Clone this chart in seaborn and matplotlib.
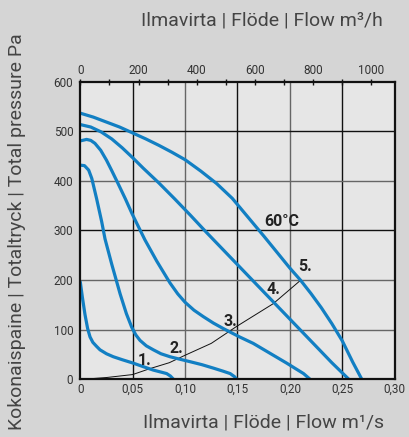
import numpy as np
import pandas as pd
import matplotlib
matplotlib.use("Agg")
import matplotlib.pyplot as plt
import seaborn as sns

sns.set_theme(style="white")
plt.rcParams["font.family"] = ["Roboto", "DejaVu Sans"]

# fan curves, flow in m3/s and total pressure in Pa
flow_1 = [0.0, 0.002, 0.0045, 0.007, 0.0093, 0.012, 0.0155, 0.0188, 0.025, 0.0315, 0.040, 0.0506, 0.060, 0.0697, 0.0770, 0.0824, 0.0860, 0.0887]
pres_1 = [196, 165, 130, 102, 85, 74, 66, 59, 51, 45, 39, 32, 25, 18, 14, 11, 6, 0]

flow_2 = [0.0, 0.004, 0.008, 0.011, 0.0156, 0.0204, 0.0236, 0.030, 0.038, 0.044, 0.049, 0.053, 0.057, 0.063, 0.0697, 0.077, 0.0856, 0.095, 0.1047, 0.116, 0.127, 0.136, 0.143, 0.147, 0.149]
pres_2 = [432, 431, 422, 405, 364, 318, 283, 232, 172, 132, 105, 89, 78, 67, 59, 51, 45, 40, 35, 29, 22, 16, 11, 5, 0]

flow_3 = [0.0, 0.006, 0.010, 0.014, 0.0195, 0.025, 0.030, 0.036, 0.043, 0.0496, 0.0617, 0.073, 0.0856, 0.093, 0.100, 0.1085, 0.1174, 0.127, 0.1364, 0.152, 0.165, 0.181, 0.197, 0.213, 0.219]
pres_3 = [481, 484, 482, 476, 462, 442, 421, 395, 364, 333, 281, 238, 194, 172, 155, 139, 126, 113, 102, 85, 72, 52, 32, 11, 0]

flow_4 = [0.0, 0.01, 0.02, 0.03, 0.04, 0.05, 0.06, 0.075, 0.09, 0.105, 0.12, 0.135, 0.15, 0.165, 0.18, 0.195, 0.21, 0.225, 0.24, 0.256]
pres_4 = [514, 509, 499, 485, 467, 447, 426, 396, 364, 331, 297, 264, 231, 198, 165, 132, 99, 66, 33, 0]

flow_5 = [0.0, 0.0125, 0.025, 0.0375, 0.05, 0.0625, 0.075, 0.0875, 0.10, 0.115, 0.13, 0.145, 0.16, 0.175, 0.19, 0.20, 0.21, 0.22, 0.23, 0.24, 0.25, 0.26, 0.2685]
pres_5 = [537, 529, 519, 509, 497, 485, 472, 458, 443, 420, 395, 365, 327, 289, 250, 224, 200, 173, 144, 112, 77, 34, 0]

# system curve through the operating points
sys_flow = [0.0, 0.0124, 0.025, 0.05, 0.0665, 0.085, 0.10, 0.125, 0.149, 0.184, 0.2105]
sys_pres = [0, 1, 3, 9, 21, 33, 48, 72, 106, 152, 200]

point_labels = ["1.", "2.", "3.", "4.", "5."]
point_flow = [0.0617, 0.092, 0.1428, 0.184, 0.2145]
point_pres = [38, 62, 116, 180, 227]

top_ticks = [0, 200, 400, 600, 800, 1000]
x_ticks = [0, 0.05, 0.10, 0.15, 0.20, 0.25, 0.30]
x_ticklabels = ["0", "0,05", "0,10", "0,15", "0,20", "0,25", "0,30"]
y_ticks = [0, 100, 200, 300, 400, 500, 600]

BLUE = "#127fc3"
TXT = "#444444"

curves = [(flow_1, pres_1), (flow_2, pres_2), (flow_3, pres_3), (flow_4, pres_4), (flow_5, pres_5)]
df = pd.concat([pd.DataFrame({"flow": f, "pressure": p, "curve": i + 1})
                for i, (f, p) in enumerate(curves)], ignore_index=True)

fig = plt.figure(figsize=(4.09, 4.37), dpi=100, facecolor="#d5d5d5")
ax = fig.add_axes([0.1963, 0.1327, 0.7687, 0.6797])
ax.set_facecolor("#e6e6e6")

# grid (alternating black / grey like the original)
for xv, c in zip([0.05, 0.10, 0.15, 0.20, 0.25], ["#111", "#666", "#111", "#666", "#111"]):
    ax.axvline(xv, color=c, lw=1.0, zorder=1)
for yv, c in zip([100, 200, 300, 400, 500], ["#666", "#666", "#111", "#666", "#111"]):
    ax.axhline(yv, color=c, lw=1.0, zorder=1)

sns.lineplot(data=df, x="flow", y="pressure", hue="curve", units="curve",
             estimator=None, sort=False, palette=[BLUE] * 5, lw=2.3,
             legend=False, ax=ax, zorder=3, solid_joinstyle="round")
sns.lineplot(x=sys_flow, y=sys_pres, color="#111", lw=0.7, ax=ax, zorder=2)

for lab, fx, py in zip(point_labels, point_flow, point_pres):
    ax.text(fx, py, lab, fontsize=11.5, fontweight="bold", color="#222",
            ha="center", va="center", zorder=4)
ax.text(0.192, 318, "60°C", fontsize=11.5, fontweight="bold", color="#222",
        ha="center", va="center", zorder=4)

ax.set_xlim(0, 0.30)
ax.set_ylim(0, 600)
ax.set_xticks(x_ticks)
ax.set_xticklabels(x_ticklabels)
ax.set_yticks(y_ticks)
ax.set_xlabel("")
ax.set_ylabel("")
ax.tick_params(axis="y", direction="out", length=4, width=1, color="#111",
               labelsize=8.5, labelcolor="#333", pad=1)
ax.tick_params(axis="x", direction="out", length=0, labelsize=8.5,
               labelcolor="#333", pad=3)
for s in ax.spines.values():
    s.set_color("#111")
    s.set_linewidth(1.6)
    s.set_zorder(5)

top = ax.secondary_xaxis("top", functions=(lambda q: q * 3600, lambda h: h / 3600))
top.set_xticks(top_ticks)
top.set_xticks([100, 300, 500, 700, 900], minor=True)
top.tick_params(which="both", direction="inout", length=5, width=1, color="#111",
                labelsize=8.5, labelcolor="#333", pad=1)
top.spines["top"].set_visible(False)

fig.text(262 / 409, 1 - 20 / 437, "Ilmavirta | Flöde | Flow m³/h",
         ha="center", va="center", fontsize=14, color=TXT)
fig.text(264 / 409, 1 - 423 / 437, "Ilmavirta | Flöde | Flow m¹/s",
         ha="center", va="center", fontsize=14, color=TXT)
fig.text(17 / 409, 1 - 232 / 437, "Kokonaispaine | Totaltryck | Total pressure Pa",
         ha="center", va="center", rotation=90, fontsize=14, color=TXT)

fig.savefig("out.png", dpi=100, facecolor=fig.get_facecolor())
